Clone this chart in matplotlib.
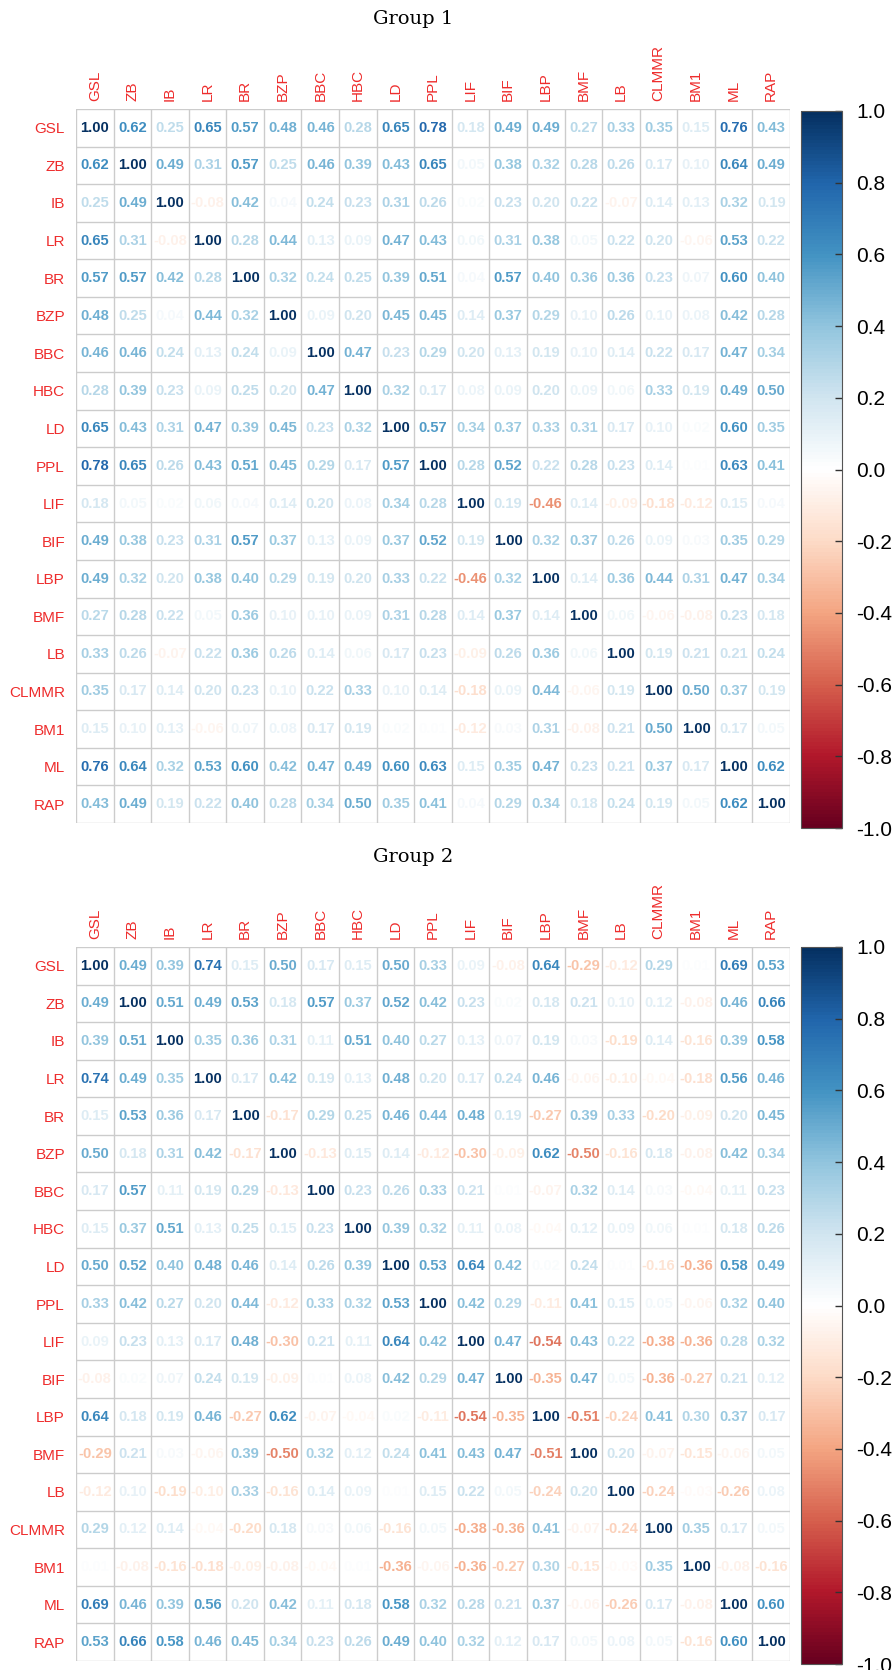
import numpy as np
import matplotlib
matplotlib.use("Agg")
import matplotlib.pyplot as plt
from matplotlib.colors import LinearSegmentedColormap, Normalize
import matplotlib.colorbar as mcolorbar

labels = ["GSL", "ZB", "IB", "LR", "BR", "BZP", "BBC", "HBC", "LD", "PPL",
          "LIF", "BIF", "LBP", "BMF", "LB", "CLMMR", "BM1", "ML", "RAP"]

group1 = [
    [1.00, 0.62, 0.25, 0.65, 0.57, 0.48, 0.46, 0.28, 0.65, 0.78, 0.18, 0.49, 0.49, 0.27, 0.33, 0.35, 0.15, 0.76, 0.43],
    [0.62, 1.00, 0.49, 0.31, 0.57, 0.25, 0.46, 0.39, 0.43, 0.65, 0.05, 0.38, 0.32, 0.28, 0.26, 0.17, 0.10, 0.64, 0.49],
    [0.25, 0.49, 1.00, -0.08, 0.42, 0.04, 0.24, 0.23, 0.31, 0.26, 0.02, 0.23, 0.20, 0.22, -0.07, 0.14, 0.13, 0.32, 0.19],
    [0.65, 0.31, -0.08, 1.00, 0.28, 0.44, 0.13, 0.09, 0.47, 0.43, 0.06, 0.31, 0.38, 0.05, 0.22, 0.20, -0.06, 0.53, 0.22],
    [0.57, 0.57, 0.42, 0.28, 1.00, 0.32, 0.24, 0.25, 0.39, 0.51, 0.04, 0.57, 0.40, 0.36, 0.36, 0.23, 0.07, 0.60, 0.40],
    [0.48, 0.25, 0.04, 0.44, 0.32, 1.00, 0.09, 0.20, 0.45, 0.45, 0.14, 0.37, 0.29, 0.10, 0.26, 0.10, 0.08, 0.42, 0.28],
    [0.46, 0.46, 0.24, 0.13, 0.24, 0.09, 1.00, 0.47, 0.23, 0.29, 0.20, 0.13, 0.19, 0.10, 0.14, 0.22, 0.17, 0.47, 0.34],
    [0.28, 0.39, 0.23, 0.09, 0.25, 0.20, 0.47, 1.00, 0.32, 0.17, 0.08, 0.09, 0.20, 0.09, 0.06, 0.33, 0.19, 0.49, 0.50],
    [0.65, 0.43, 0.31, 0.47, 0.39, 0.45, 0.23, 0.32, 1.00, 0.57, 0.34, 0.37, 0.33, 0.31, 0.17, 0.10, 0.02, 0.60, 0.35],
    [0.78, 0.65, 0.26, 0.43, 0.51, 0.45, 0.29, 0.17, 0.57, 1.00, 0.28, 0.52, 0.22, 0.28, 0.23, 0.14, 0.01, 0.63, 0.41],
    [0.18, 0.05, 0.02, 0.06, 0.04, 0.14, 0.20, 0.08, 0.34, 0.28, 1.00, 0.19, -0.46, 0.14, -0.09, -0.18, -0.12, 0.15, 0.04],
    [0.49, 0.38, 0.23, 0.31, 0.57, 0.37, 0.13, 0.09, 0.37, 0.52, 0.19, 1.00, 0.32, 0.37, 0.26, 0.09, 0.03, 0.35, 0.29],
    [0.49, 0.32, 0.20, 0.38, 0.40, 0.29, 0.19, 0.20, 0.33, 0.22, -0.46, 0.32, 1.00, 0.14, 0.36, 0.44, 0.31, 0.47, 0.34],
    [0.27, 0.28, 0.22, 0.05, 0.36, 0.10, 0.10, 0.09, 0.31, 0.28, 0.14, 0.37, 0.14, 1.00, 0.06, -0.06, -0.08, 0.23, 0.18],
    [0.33, 0.26, -0.07, 0.22, 0.36, 0.26, 0.14, 0.06, 0.17, 0.23, -0.09, 0.26, 0.36, 0.06, 1.00, 0.19, 0.21, 0.21, 0.24],
    [0.35, 0.17, 0.14, 0.20, 0.23, 0.10, 0.22, 0.33, 0.10, 0.14, -0.18, 0.09, 0.44, -0.06, 0.19, 1.00, 0.50, 0.37, 0.19],
    [0.15, 0.10, 0.13, -0.06, 0.07, 0.08, 0.17, 0.19, 0.02, 0.01, -0.12, 0.03, 0.31, -0.08, 0.21, 0.50, 1.00, 0.17, 0.05],
    [0.76, 0.64, 0.32, 0.53, 0.60, 0.42, 0.47, 0.49, 0.60, 0.63, 0.15, 0.35, 0.47, 0.23, 0.21, 0.37, 0.17, 1.00, 0.62],
    [0.43, 0.49, 0.19, 0.22, 0.40, 0.28, 0.34, 0.50, 0.35, 0.41, 0.04, 0.29, 0.34, 0.18, 0.24, 0.19, 0.05, 0.62, 1.00],
]

group2 = [
    [1.00, 0.49, 0.39, 0.74, 0.15, 0.50, 0.17, 0.15, 0.50, 0.33, 0.09, -0.08, 0.64, -0.29, -0.12, 0.29, 0.01, 0.69, 0.53],
    [0.49, 1.00, 0.51, 0.49, 0.53, 0.18, 0.57, 0.37, 0.52, 0.42, 0.23, 0.02, 0.18, 0.21, 0.10, 0.12, -0.08, 0.46, 0.66],
    [0.39, 0.51, 1.00, 0.35, 0.36, 0.31, 0.11, 0.51, 0.40, 0.27, 0.13, 0.07, 0.19, 0.03, -0.19, 0.14, -0.16, 0.39, 0.58],
    [0.74, 0.49, 0.35, 1.00, 0.17, 0.42, 0.19, 0.13, 0.48, 0.20, 0.17, 0.24, 0.46, -0.06, -0.10, -0.04, -0.18, 0.56, 0.46],
    [0.15, 0.53, 0.36, 0.17, 1.00, -0.17, 0.29, 0.25, 0.46, 0.44, 0.48, 0.19, -0.27, 0.39, 0.33, -0.20, -0.09, 0.20, 0.45],
    [0.50, 0.18, 0.31, 0.42, -0.17, 1.00, -0.13, 0.15, 0.14, -0.12, -0.30, -0.09, 0.62, -0.50, -0.16, 0.18, -0.08, 0.42, 0.34],
    [0.17, 0.57, 0.11, 0.19, 0.29, -0.13, 1.00, 0.23, 0.26, 0.33, 0.21, 0.01, -0.07, 0.32, 0.14, 0.03, -0.04, 0.11, 0.23],
    [0.15, 0.37, 0.51, 0.13, 0.25, 0.15, 0.23, 1.00, 0.39, 0.32, 0.11, 0.08, -0.04, 0.12, 0.09, 0.06, 0.01, 0.18, 0.26],
    [0.50, 0.52, 0.40, 0.48, 0.46, 0.14, 0.26, 0.39, 1.00, 0.53, 0.64, 0.42, 0.02, 0.24, 0.01, -0.16, -0.36, 0.58, 0.49],
    [0.33, 0.42, 0.27, 0.20, 0.44, -0.12, 0.33, 0.32, 0.53, 1.00, 0.42, 0.29, -0.11, 0.41, 0.15, 0.05, -0.06, 0.32, 0.40],
    [0.09, 0.23, 0.13, 0.17, 0.48, -0.30, 0.21, 0.11, 0.64, 0.42, 1.00, 0.47, -0.54, 0.43, 0.22, -0.38, -0.36, 0.28, 0.32],
    [-0.08, 0.02, 0.07, 0.24, 0.19, -0.09, 0.01, 0.08, 0.42, 0.29, 0.47, 1.00, -0.35, 0.47, 0.05, -0.36, -0.27, 0.21, 0.12],
    [0.64, 0.18, 0.19, 0.46, -0.27, 0.62, -0.07, -0.04, 0.02, -0.11, -0.54, -0.35, 1.00, -0.51, -0.24, 0.41, 0.30, 0.37, 0.17],
    [-0.29, 0.21, 0.03, -0.06, 0.39, -0.50, 0.32, 0.12, 0.24, 0.41, 0.43, 0.47, -0.51, 1.00, 0.20, -0.07, -0.15, -0.06, 0.05],
    [-0.12, 0.10, -0.19, -0.10, 0.33, -0.16, 0.14, 0.09, 0.01, 0.15, 0.22, 0.05, -0.24, 0.20, 1.00, -0.24, -0.03, -0.26, 0.08],
    [0.29, 0.12, 0.14, -0.04, -0.20, 0.18, 0.03, 0.06, -0.16, 0.05, -0.38, -0.36, 0.41, -0.07, -0.24, 1.00, 0.35, 0.17, 0.05],
    [0.01, -0.08, -0.16, -0.18, -0.09, -0.08, -0.04, 0.01, -0.36, -0.06, -0.36, -0.27, 0.30, -0.15, -0.03, 0.35, 1.00, -0.08, -0.16],
    [0.69, 0.46, 0.39, 0.56, 0.20, 0.42, 0.11, 0.18, 0.58, 0.32, 0.28, 0.21, 0.37, -0.06, -0.26, 0.17, -0.08, 1.00, 0.60],
    [0.53, 0.66, 0.58, 0.46, 0.45, 0.34, 0.23, 0.26, 0.49, 0.40, 0.32, 0.12, 0.17, 0.05, 0.08, 0.05, -0.16, 0.60, 1.00],
]

titles = ["Group 1", "Group 2"]
cbar_ticks = [1.0, 0.8, 0.6, 0.4, 0.2, 0.0, -0.2, -0.4, -0.6, -0.8, -1.0]

W, H = 895, 1670
fig = plt.figure(figsize=(W / 100, H / 100), dpi=100)
fig.patch.set_facecolor("white")

cols = ["#67001F", "#B2182B", "#D6604D", "#F4A582", "#FDDBC7", "#FFFFFF",
        "#D1E5F0", "#92C5DE", "#4393C3", "#2166AC", "#053061"]
cmap = LinearSegmentedColormap.from_list("corrRdBu", cols, N=200)
norm = Normalize(vmin=-1, vmax=1)


def px_axes(left, top, width, height):
    return fig.add_axes([left / W, 1 - (top + height) / H, width / W, height / H])


def draw_group(mat, title, top, cbar_top):
    mat = np.array(mat)
    n = len(labels)
    gl, gw = 76, 714
    ax = px_axes(gl, top, gw, gw)
    ax.set_xlim(-0.5, n - 0.5)
    ax.set_ylim(n - 0.5, -0.5)
    for k in range(n + 1):
        ax.axhline(k - 0.5, color="#CCCCCC", lw=1.0, zorder=1)
        ax.axvline(k - 0.5, color="#CCCCCC", lw=1.0, zorder=1)
    for s in ax.spines.values():
        s.set_visible(False)
    for i in range(n):
        for j in range(n):
            v = mat[i, j]
            ax.text(j, i, f"{v:.2f}", ha="center", va="center",
                    color=cmap(norm(v)), fontsize=10.6, fontweight="bold",
                    family="Liberation Sans", zorder=3)
    ax.set_yticks(range(n))
    ax.set_yticklabels(labels, color="#EE2C2C", fontsize=11,
                       family="Liberation Sans")
    ax.xaxis.tick_top()
    ax.set_xticks(range(n))
    ax.set_xticklabels(labels, color="#EE2C2C", fontsize=11, rotation=90,
                       family="Liberation Sans")
    ax.tick_params(length=0)
    ax.tick_params(axis="y", pad=8)
    ax.tick_params(axis="x", pad=6)

    fig.text((gl + 337) / W, 1 - (top - 90) / H, title, ha="center",
             va="center", fontsize=14, family="DejaVu Serif")

    cax = px_axes(801, cbar_top, 41, 717)
    cb = mcolorbar.ColorbarBase(cax, cmap=cmap, norm=norm,
                                orientation="vertical", ticks=cbar_ticks)
    cb.ax.set_yticklabels([f"{t:.1f}" for t in cbar_ticks])
    cb.outline.set_edgecolor("#555555")
    cb.outline.set_linewidth(0.8)
    cax.tick_params(axis="y", direction="in", length=5, width=1.0,
                    color="#333333", labelsize=15, pad=10)
    for lbl in cax.get_yticklabels():
        lbl.set_family("Liberation Sans")


draw_group(group1, titles[0], 109, 111)
draw_group(group2, titles[1], 947, 947)

fig.savefig("out.png", dpi=100, facecolor="white")
